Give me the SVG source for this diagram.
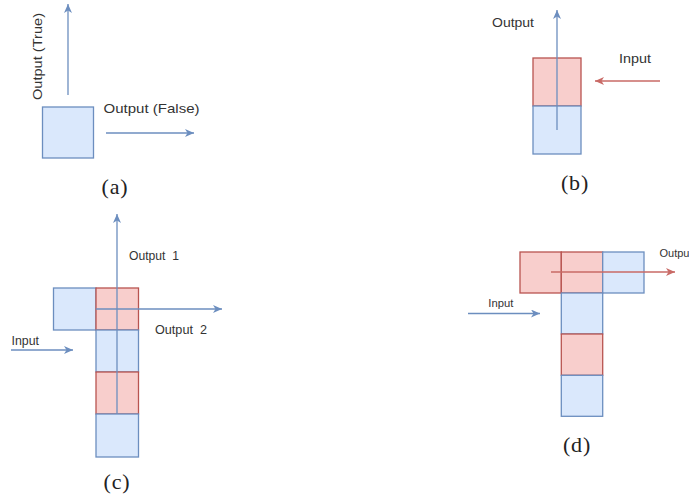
<svg xmlns="http://www.w3.org/2000/svg" width="689" height="502" viewBox="0 0 689 502">
<defs>
<style>
.b{fill:#dae8fc;stroke:#6c8ebf;stroke-width:1.3}
.r{fill:#f8cecc;stroke:#b85450;stroke-width:1.3}
.ab{stroke:#6c8ebf;stroke-width:1.3;fill:none;marker-end:url(#mb)}
.ar{stroke:#c96a66;stroke-width:1.3;fill:none;marker-end:url(#mr)}
.t{font-family:"Liberation Sans",Arial,sans-serif;font-size:13px;fill:#333}
.cap{font-family:"Liberation Serif","Times New Roman",serif;font-size:22px;fill:#222;text-anchor:middle;letter-spacing:0.8px}
</style>
<marker id="mb" markerUnits="userSpaceOnUse" markerWidth="12" markerHeight="10" refX="9" refY="4" orient="auto"><path d="M0,0 L9,4 L0,8 L2.5,4 z" fill="#6c8ebf"/></marker>
<marker id="mr" markerUnits="userSpaceOnUse" markerWidth="12" markerHeight="10" refX="9" refY="4" orient="auto"><path d="M0,0 L9,4 L0,8 L2.5,4 z" fill="#c96a66"/></marker>
</defs>
<rect width="689" height="502" fill="#fff"/>

<!-- (a) -->
<g id="a-node"><rect class="b" x="42.5" y="107" width="51" height="51"/></g>
<g id="a-labels">
<text class="t" x="103.5" y="113" textLength="96" lengthAdjust="spacingAndGlyphs">Output (False)</text>
<text class="t" transform="translate(41.5,100) rotate(-90)" textLength="87" lengthAdjust="spacingAndGlyphs">Output (True)</text>
<text class="cap" x="115" y="194">(a)</text>
</g>

<!-- (b) -->
<g id="b-top"><rect class="r" x="533" y="58" width="48" height="48"/></g>
<g id="b-bottom"><rect class="b" x="533" y="106" width="48" height="48"/></g>
<g id="b-labels">
<text class="t" x="492" y="27" textLength="42" lengthAdjust="spacingAndGlyphs">Output</text>
<text class="t" x="619" y="63" textLength="32" lengthAdjust="spacingAndGlyphs">Input</text>
<text class="cap" x="575" y="190">(b)</text>
</g>

<!-- (c) -->
<g id="c-left"><rect class="b" x="53.5" y="288" width="42.5" height="42"/></g>
<g id="c-r1"><rect class="r" x="96" y="288" width="42.5" height="42"/></g>
<g id="c-b1"><rect class="b" x="96" y="330" width="42.5" height="42"/></g>
<g id="c-r2"><rect class="r" x="96" y="372" width="42.5" height="42"/></g>
<g id="c-b2"><rect class="b" x="96" y="414" width="42.5" height="43"/></g>
<g id="c-labels">
<text class="t" x="129" y="260" textLength="50" lengthAdjust="spacingAndGlyphs" xml:space="preserve">Output  1</text>
<text class="t" x="155" y="334" textLength="52" lengthAdjust="spacingAndGlyphs" xml:space="preserve">Output  2</text>
<text class="t" x="11.5" y="345" textLength="27.5" lengthAdjust="spacingAndGlyphs">Input</text>
<text class="cap" x="117" y="489">(c)</text>
</g>

<!-- (d) -->
<g id="d-t1"><rect class="r" x="520" y="252" width="41.3" height="41"/></g>
<g id="d-t2"><rect class="r" x="561.3" y="252" width="41.4" height="41"/></g>
<g id="d-t3"><rect class="b" x="602.7" y="252" width="41.3" height="41"/></g>
<g id="d-c1"><rect class="b" x="561.3" y="293" width="41.4" height="41"/></g>
<g id="d-c2"><rect class="r" x="561.3" y="334" width="41.4" height="41.3"/></g>
<g id="d-c3"><rect class="b" x="561.3" y="375.3" width="41.4" height="41"/></g>
<g id="d-labels">
<text class="t" x="659.5" y="256.5" style="font-size:11px">Outpu</text>
<text class="t" x="488.3" y="307" style="font-size:11px" textLength="25" lengthAdjust="spacingAndGlyphs">Input</text>
<text class="cap" x="577" y="452">(d)</text>
</g>

<g id="connectors">
<line class="ab" x1="68" y1="95" x2="68" y2="4"/>
<line class="ab" x1="106" y1="133" x2="194" y2="133"/>
<line class="ab" x1="557" y1="130" x2="557" y2="10"/>
<line class="ar" x1="660" y1="81" x2="595" y2="81"/>
<line class="ab" x1="117" y1="414" x2="117" y2="214"/>
<line class="ab" x1="96" y1="309" x2="222" y2="309"/>
<line class="ab" x1="11" y1="350" x2="73" y2="350"/>
<line class="ar" x1="551" y1="272" x2="675" y2="272"/>
<line class="ab" x1="468" y1="313.5" x2="540" y2="313.5"/>
</g>
</svg>
